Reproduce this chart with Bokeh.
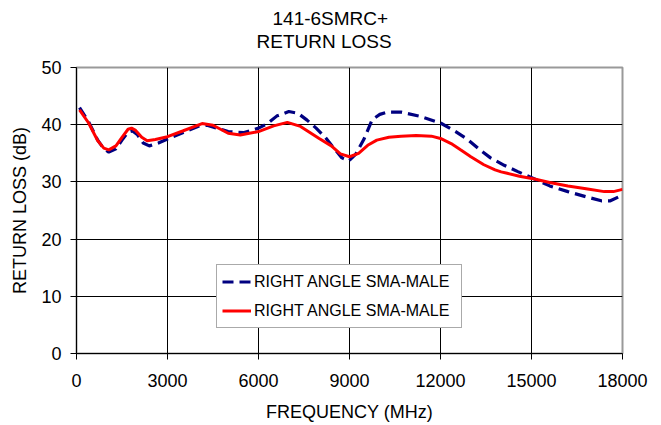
from bokeh.plotting import figure
from bokeh.models import Range1d, FixedTicker, Title, Legend, LegendItem
from bokeh.embed import file_html
from bokeh.resources import INLINE

# ---- data ----
blue_freq = [100, 400, 700, 900, 1065, 1300, 1500, 1700, 1850, 2000, 2200, 2400, 2700,
             3000, 3500, 4000, 4300, 4700, 5000, 5500, 6000, 6300, 6600, 7000, 7300,
             7600, 7900, 8200, 8500, 8750, 8980, 9200, 9470, 9750, 10000, 10250, 10700,
             11300, 12000, 12500, 12900, 13300, 13650, 14100, 14550, 15100, 15600,
             16200, 16800, 17300, 17600, 18000]
blue_rl = [43.0, 40.5, 37.3, 35.8, 35.2, 35.8, 37.3, 38.7, 38.9, 38.3, 36.8, 36.3, 36.8,
           37.5, 38.6, 39.7, 39.9, 39.3, 38.8, 38.6, 39.4, 40.2, 41.5, 42.3, 42.0,
           40.8, 39.4, 37.8, 35.8, 34.2, 33.7, 34.8, 37.4, 40.9, 41.8, 42.2, 42.2,
           41.5, 40.3, 38.8, 37.4, 35.6, 34.2, 32.9, 31.8, 30.5, 29.3,
           28.3, 27.4, 26.7, 26.7, 27.7]

red_freq = [100, 400, 700, 900, 1065, 1300, 1500, 1700, 1813, 1950, 2150, 2330, 2600,
            3000, 3500, 4140, 4500, 5000, 5400, 6000, 6500, 6950, 7385, 8000, 8400,
            8700, 9000, 9300, 9600, 9900, 10300, 10700, 11200, 11700, 12000, 12350,
            12660, 13000, 13430, 13800, 14000, 14200, 14600, 15100, 15600, 16200, 16800,
            17400, 17700, 18000]
red_rl = [42.6, 40.3, 37.2, 35.9, 35.6, 36.3, 37.8, 39.2, 39.4, 39.0, 37.8, 37.2, 37.4,
          37.9, 38.9, 40.2, 39.9, 38.5, 38.2, 38.8, 39.8, 40.4, 39.7, 37.6, 36.3,
          34.9, 34.4, 35.0, 36.4, 37.3, 37.8, 38.0, 38.1, 38.0, 37.6, 36.7,
          35.6, 34.4, 33.0, 32.1, 31.75, 31.5, 31.0, 30.5, 29.9, 29.3, 28.8,
          28.3, 28.3, 28.7]

x_ticks = [0, 3000, 6000, 9000, 12000, 15000, 18000]
y_ticks = [0, 10, 20, 30, 40, 50]
title_lines = ["141-6SMRC+", "RETURN LOSS"]
series_names = ["RIGHT ANGLE SMA-MALE", "RIGHT ANGLE SMA-MALE"]

FONT = "Liberation Sans"

p = figure(width=661, height=425, output_backend="svg", toolbar_location=None,
           x_range=Range1d(0, 18000), y_range=Range1d(0, 50), title=None,
           min_border_left=76, min_border_right=39, min_border_top=67,
           min_border_bottom=72)
p.background_fill_color = "white"
p.border_fill_color = "white"
p.outline_line_color = "#999999"
p.outline_line_width = 2

# titles (first added is closest to plot)
spacer = Title(text=" ", standoff=5, text_font=FONT, text_font_size="8px")
t2 = Title(text=title_lines[1], align="left", offset=180, standoff=0,
           text_font=FONT, text_font_size="19px", text_font_style="normal",
           text_color="black")
t1 = Title(text=title_lines[0], align="left", offset=196, standoff=0,
           text_font=FONT, text_font_size="19px", text_font_style="normal",
           text_color="black")
p.add_layout(spacer, "above")
p.add_layout(t2, "above")
p.add_layout(t1, "above")

# axes
for ax in (p.xaxis[0], p.yaxis[0]):
    ax.axis_line_color = "black"
    ax.axis_line_width = 1
    ax.major_tick_line_color = "black"
    ax.major_tick_out = 6
    ax.major_tick_in = 0
    ax.minor_tick_line_color = None
    ax.major_label_text_font = FONT
    ax.major_label_text_font_size = "18px"
    ax.major_label_text_color = "black"
    ax.axis_label_text_font = FONT
    ax.axis_label_text_font_size = "18px"
    ax.axis_label_text_font_style = "normal"
    ax.axis_label_text_color = "black"

p.xaxis.ticker = FixedTicker(ticks=x_ticks)
p.yaxis.ticker = FixedTicker(ticks=y_ticks)
p.xaxis.axis_label = "FREQUENCY (MHz)"
p.yaxis.axis_label = "RETURN LOSS (dB)"
p.xaxis.major_label_standoff = 14
p.xaxis.axis_label_standoff = 12
p.yaxis.major_label_standoff = 9
p.yaxis.axis_label_standoff = 8

p.xgrid.ticker = FixedTicker(ticks=x_ticks[1:-1])
p.ygrid.ticker = FixedTicker(ticks=y_ticks[1:-1])
for g in (p.xgrid[0], p.ygrid[0]):
    g.grid_line_color = "black"
    g.grid_line_width = 1

r_blue = p.line(blue_freq, blue_rl, line_color="#000080", line_width=3.2,
                line_dash="11 6")
r_red = p.line(red_freq, red_rl, line_color="#FF0000", line_width=3)

legend = Legend(items=[LegendItem(label=series_names[0], renderers=[r_blue]),
                       LegendItem(label=series_names[1], renderers=[r_red])],
                location=(140, 25), orientation="vertical",
                padding=5, spacing=6, margin=0,
                glyph_width=29, glyph_height=23, label_height=23,
                label_width=202, label_standoff=3,
                label_text_font=FONT, label_text_font_size="16px",
                label_text_color="black",
                border_line_color="#555555", border_line_width=1,
                background_fill_color="white", background_fill_alpha=1)
p.add_layout(legend, "center")

open("out.html", "w").write(file_html(p, INLINE))
